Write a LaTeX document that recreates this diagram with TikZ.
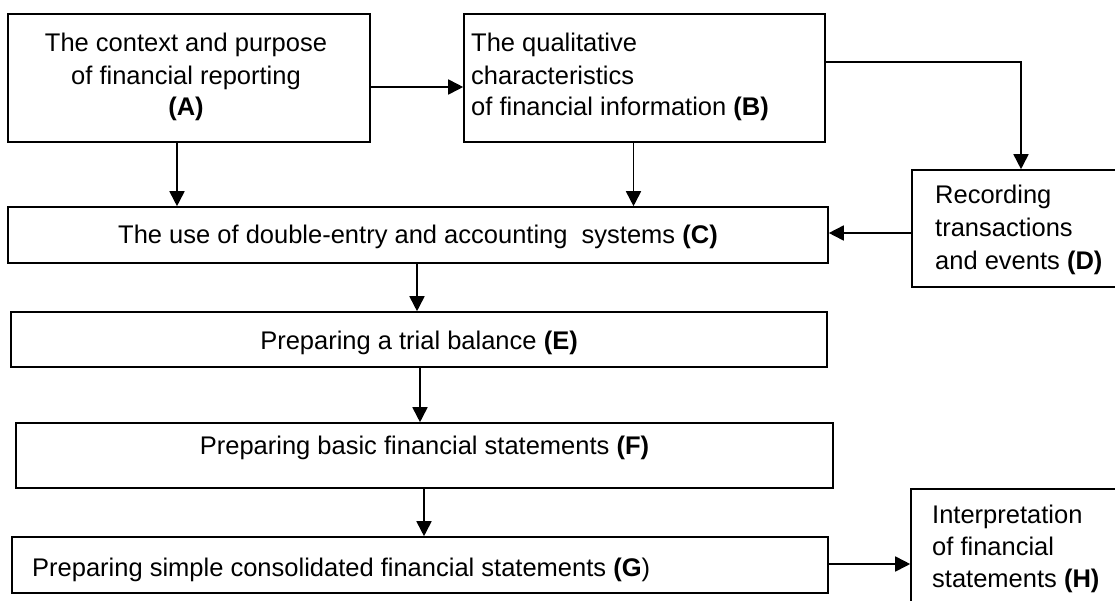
\documentclass[tikz,border=0pt]{standalone}
\usepackage{fontspec}
\setmainfont{Liberation Sans}
\usetikzlibrary{arrows.meta}
\begin{document}
\begin{tikzpicture}[x=1pt,y=-1pt,
  box/.style={draw=black,line width=1.6pt,rectangle,inner sep=0pt,anchor=center},
  arr/.style={draw=black,line width=1.7pt,-{Triangle[length=15pt,width=15pt]}},
  txt/.style={font=\fontsize{25.5}{32}\selectfont,inner sep=0pt,anchor=base},
  ltxt/.style={txt,anchor=base west}]
\useasboundingbox (0,0) rectangle (1115,600);
\clip (0,0) rectangle (1115,600);
% boxes
\node[box,minimum width=362pt,minimum height=128pt] (A) at (189,78) {};
\node[box,minimum width=361pt,minimum height=128pt] (B) at (644.5,78) {};
\node[box,minimum width=820pt,minimum height=56pt] (C) at (418,235) {};
\node[box,minimum width=218pt,minimum height=117pt] (D) at (1021,228.5) {};
\node[box,minimum width=816pt,minimum height=55pt] (E) at (419,339.5) {};
\node[box,minimum width=817pt,minimum height=65pt] (F) at (424.5,455.5) {};
\node[box,minimum width=816pt,minimum height=56pt] (G) at (420,565) {};
\node[box,minimum width=219pt,minimum height=131pt] (H) at (1020.5,554.5) {};
% texts
\node[txt] (a1) at (186,51) {The context and purpose};
\node[txt] (a2) at (186,84) {of financial reporting};
\node[txt] (a3) at (186,115) {\textbf{(A)}};
\node[ltxt] (b1) at (471,51) {The qualitative};
\node[ltxt] (b2) at (471,84) {characteristics};
\node[ltxt] (b3) at (471,115) {of financial information \textbf{(B)}};
\node[txt] (c1) at (418,243) {The use of double-entry and accounting\ \ systems \textbf{(C)}};
\node[ltxt] (d1) at (935,203) {Recording};
\node[ltxt] (d2) at (935,236) {transactions};
\node[ltxt] (d3) at (935,269) {and events \textbf{(D)}};
\node[txt] (e1) at (419,349) {Preparing a trial balance \textbf{(E)}};
\node[txt] (f1) at (424.5,454) {Preparing basic financial statements \textbf{(F)}};
\node[ltxt] (g1) at (32,576) {Preparing simple consolidated financial statements \textbf{(G})};
\node[ltxt] (h1) at (932,523) {Interpretation};
\node[ltxt] (h2) at (932,555) {of financial};
\node[ltxt] (h3) at (932,587) {statements \textbf{(H)}};
% connector guides
\coordinate (yab) at (0,87);
\coordinate (ybd) at (0,62);
\coordinate (xac) at (177,0);
\coordinate (xbc) at (633.5,0);
\coordinate (ydc) at (0,233);
\coordinate (xce) at (417,0);
\coordinate (xef) at (420,0);
\coordinate (xfg) at (424,0);
\coordinate (ygh) at (0,564);
% connectors
\draw[arr] (A.east |- yab) -- (B.west |- yab);
\draw[arr] (B.east |- ybd) -| (D.north);
\draw[arr] (A.south -| xac) -- (C.north -| xac);
\draw[arr] (B.south -| xbc) -- (C.north -| xbc);
\draw[arr] (D.west |- ydc) -- (C.east |- ydc);
\draw[arr] (C.south -| xce) -- (E.north -| xce);
\draw[arr] (E.south -| xef) -- (F.north -| xef);
\draw[arr] (F.south -| xfg) -- (G.north -| xfg);
\draw[arr] (G.east |- ygh) -- (H.west |- ygh);
\end{tikzpicture}
\end{document}
